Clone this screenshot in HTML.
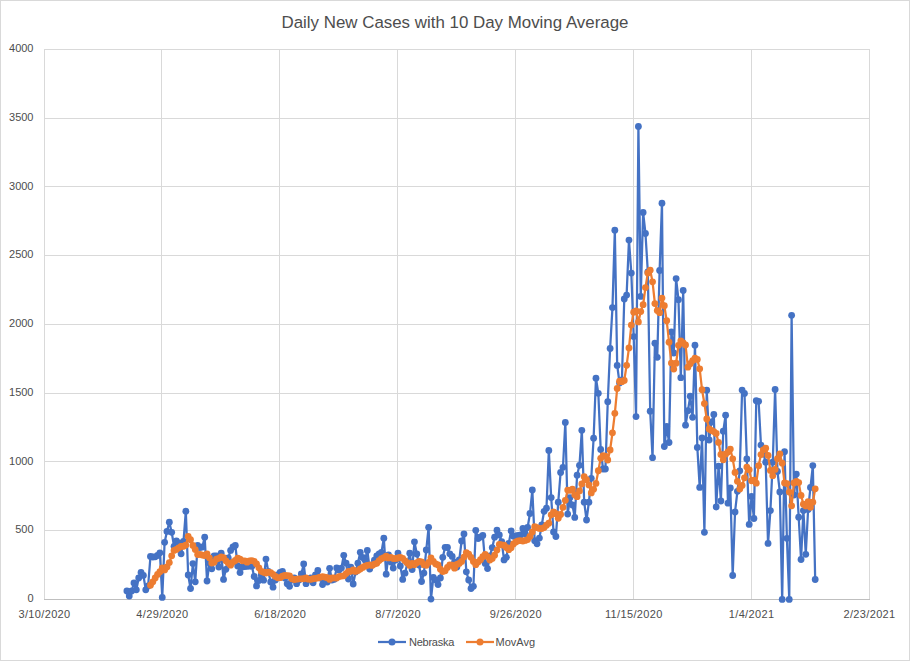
<!DOCTYPE html>
<html><head><meta charset="utf-8"><style>
html,body{margin:0;padding:0;background:#fff;}
#c{position:relative;width:910px;height:661px;overflow:hidden;font-family:"Liberation Sans",sans-serif;color:#4d4d4d;}
#frame{position:absolute;left:0;top:0;width:908px;height:659px;border:1px solid #d9d9d9;}
.t{position:absolute;left:0;width:910px;top:13px;text-align:center;font-size:16.9px;line-height:20px;letter-spacing:0px;}
.yl{position:absolute;left:0;width:33.5px;text-align:right;font-size:11px;line-height:14px;}
.xl{position:absolute;top:607px;width:100px;text-align:center;font-size:11px;line-height:14px;letter-spacing:0.35px;}
.lg{position:absolute;top:635px;font-size:11px;line-height:14px;}
svg{position:absolute;left:0;top:0;}
</style></head><body><div id="c">
<div id="frame"></div>
<svg width="910" height="661" viewBox="0 0 910 661">
<line x1="44" y1="49.5" x2="870" y2="49.5" stroke="#d9d9d9" stroke-width="1"/><line x1="44" y1="118.5" x2="870" y2="118.5" stroke="#d9d9d9" stroke-width="1"/><line x1="44" y1="186.5" x2="870" y2="186.5" stroke="#d9d9d9" stroke-width="1"/><line x1="44" y1="255.5" x2="870" y2="255.5" stroke="#d9d9d9" stroke-width="1"/><line x1="44" y1="324.5" x2="870" y2="324.5" stroke="#d9d9d9" stroke-width="1"/><line x1="44" y1="393.5" x2="870" y2="393.5" stroke="#d9d9d9" stroke-width="1"/><line x1="44" y1="461.5" x2="870" y2="461.5" stroke="#d9d9d9" stroke-width="1"/><line x1="44" y1="530.5" x2="870" y2="530.5" stroke="#d9d9d9" stroke-width="1"/><line x1="44.5" y1="49" x2="44.5" y2="599" stroke="#d9d9d9" stroke-width="1"/><line x1="161.5" y1="49" x2="161.5" y2="599" stroke="#d9d9d9" stroke-width="1"/><line x1="279.5" y1="49" x2="279.5" y2="599" stroke="#d9d9d9" stroke-width="1"/><line x1="397.5" y1="49" x2="397.5" y2="599" stroke="#d9d9d9" stroke-width="1"/><line x1="515.5" y1="49" x2="515.5" y2="599" stroke="#d9d9d9" stroke-width="1"/><line x1="633.5" y1="49" x2="633.5" y2="599" stroke="#d9d9d9" stroke-width="1"/><line x1="751.5" y1="49" x2="751.5" y2="599" stroke="#d9d9d9" stroke-width="1"/><line x1="869.5" y1="49" x2="869.5" y2="599" stroke="#d9d9d9" stroke-width="1"/><line x1="44" y1="599.5" x2="870" y2="599.5" stroke="#bfbfbf" stroke-width="1"/><path d="M126.90,591.00 L129.26,596.00 L131.61,591.00 L133.97,583.00 L136.33,589.80 L138.69,578.00 L141.04,572.50 L143.40,575.40 L145.76,589.80 L148.11,586.00 L150.47,556.40 L152.83,557.00 L155.19,556.80 L157.54,555.50 L159.90,552.80 L162.26,597.40 L164.61,542.30 L166.97,531.40 L169.33,522.20 L171.69,532.30 L174.04,546.30 L176.40,541.00 L178.76,543.00 L181.11,553.80 L183.47,541.50 L185.83,511.20 L188.19,575.00 L190.54,588.50 L192.90,563.60 L195.26,581.80 L197.61,545.30 L199.97,547.50 L202.33,547.00 L204.69,537.20 L207.04,581.00 L209.40,563.00 L211.76,568.80 L214.11,556.00 L216.47,556.00 L218.83,567.00 L221.19,553.20 L223.54,579.40 L225.90,569.30 L228.26,558.00 L230.61,550.40 L232.97,547.00 L235.33,545.50 L237.69,566.00 L240.04,572.60 L242.40,567.00 L244.76,566.50 L247.11,566.30 L249.47,566.00 L251.83,566.20 L254.19,576.50 L256.54,585.90 L258.90,580.50 L261.26,575.00 L263.61,580.20 L265.97,559.10 L268.33,571.40 L270.69,582.00 L273.04,587.20 L275.40,580.00 L277.76,575.00 L280.11,572.30 L282.47,571.40 L284.83,578.00 L287.19,583.70 L289.54,586.30 L291.90,580.00 L294.26,578.00 L296.61,583.70 L298.97,580.00 L301.33,574.00 L303.69,563.90 L306.04,583.70 L308.40,580.00 L310.76,578.00 L313.11,582.80 L315.47,575.00 L317.83,570.50 L320.19,578.00 L322.54,584.60 L324.90,580.00 L327.26,582.00 L329.61,568.30 L331.97,580.00 L334.33,579.30 L336.69,567.90 L339.04,570.00 L341.40,568.10 L343.76,555.30 L346.11,563.20 L348.47,579.00 L350.83,567.20 L353.19,584.00 L355.54,572.00 L357.90,563.20 L360.26,552.30 L362.61,557.50 L364.97,560.00 L367.33,550.50 L369.69,569.00 L372.04,565.00 L374.40,560.20 L376.76,556.00 L379.11,554.00 L381.47,552.30 L383.83,538.20 L386.19,574.20 L388.54,554.90 L390.90,562.00 L393.26,568.10 L395.61,560.00 L397.97,553.10 L400.33,566.00 L402.69,579.40 L405.04,573.20 L407.40,563.00 L409.76,553.20 L412.11,569.50 L414.47,541.80 L416.83,554.00 L419.19,565.00 L421.54,581.50 L423.90,573.10 L426.26,550.00 L428.61,527.30 L430.97,599.10 L433.33,577.50 L435.69,580.00 L438.04,584.60 L440.40,578.00 L442.76,557.30 L445.11,547.30 L447.47,547.50 L449.83,553.80 L452.19,556.40 L454.54,562.00 L456.90,567.00 L459.26,560.00 L461.61,541.00 L463.97,533.90 L466.33,571.80 L468.69,580.00 L471.04,588.50 L473.40,586.30 L475.76,530.30 L478.11,538.60 L480.47,537.00 L482.83,535.50 L485.19,563.40 L487.54,568.60 L489.90,556.00 L492.26,547.60 L494.61,537.20 L496.97,530.20 L499.33,535.00 L501.69,541.60 L504.04,559.90 L506.40,557.30 L508.76,543.40 L511.11,530.90 L513.47,536.30 L515.83,536.00 L518.19,535.30 L520.54,535.00 L522.90,528.40 L525.26,533.70 L527.61,527.50 L529.97,513.50 L532.33,490.00 L534.69,540.70 L537.04,543.80 L539.40,538.10 L541.76,525.00 L544.11,511.30 L546.47,508.20 L548.83,450.40 L551.19,497.60 L553.54,532.00 L555.90,536.50 L558.26,502.20 L560.61,472.50 L562.97,467.30 L565.33,422.40 L567.69,514.10 L570.04,497.60 L572.40,505.00 L574.76,517.40 L577.11,475.20 L579.47,465.30 L581.83,430.30 L584.19,502.20 L586.54,520.00 L588.90,502.20 L591.26,478.30 L593.61,438.20 L595.97,378.20 L598.33,393.30 L600.69,449.40 L603.04,469.00 L605.40,469.00 L607.76,401.70 L610.11,348.50 L612.47,307.60 L614.83,230.20 L617.19,365.40 L619.54,383.00 L621.90,380.00 L624.26,299.00 L626.61,295.10 L628.97,240.10 L631.33,273.10 L633.69,336.60 L636.04,416.60 L638.40,126.50 L640.76,296.40 L643.11,212.40 L645.47,233.50 L647.83,272.00 L650.19,411.20 L652.54,457.70 L654.90,343.20 L657.26,357.30 L659.61,270.50 L661.97,203.20 L664.33,446.50 L666.69,426.50 L669.04,442.50 L671.40,332.00 L673.76,353.00 L676.11,278.60 L678.47,299.70 L680.83,377.70 L683.19,290.40 L685.54,425.20 L687.90,410.70 L690.26,396.20 L692.61,417.30 L694.97,345.20 L697.33,447.50 L699.69,487.40 L702.04,438.00 L704.40,532.30 L706.76,390.20 L709.11,440.00 L711.47,422.00 L713.83,414.50 L716.19,507.00 L718.54,466.20 L720.90,501.00 L723.26,431.20 L725.61,415.20 L727.97,503.20 L730.33,488.00 L732.69,575.50 L735.04,511.90 L737.40,491.35 L739.76,470.80 L742.11,390.10 L744.47,393.40 L746.83,458.90 L749.19,524.40 L751.54,496.50 L753.90,518.50 L756.26,400.70 L758.61,401.30 L760.97,445.10 L763.33,453.65 L765.69,462.20 L768.04,543.40 L770.40,510.60 L772.76,462.20 L775.11,389.50 L777.47,471.50 L779.83,491.90 L782.19,599.40 L784.54,451.70 L786.90,538.30 L789.26,599.40 L791.61,315.30 L793.97,495.00 L796.33,474.10 L798.69,517.20 L801.04,559.50 L803.40,510.60 L805.76,554.30 L808.11,509.50 L810.47,487.40 L812.83,465.60 L815.19,579.50" fill="none" stroke="#4472c4" stroke-width="2.25" stroke-linejoin="round" stroke-linecap="round"/><circle cx="126.90" cy="591.00" r="3.4" fill="#4472c4"/><circle cx="129.26" cy="596.00" r="3.4" fill="#4472c4"/><circle cx="131.61" cy="591.00" r="3.4" fill="#4472c4"/><circle cx="133.97" cy="583.00" r="3.4" fill="#4472c4"/><circle cx="136.33" cy="589.80" r="3.4" fill="#4472c4"/><circle cx="138.69" cy="578.00" r="3.4" fill="#4472c4"/><circle cx="141.04" cy="572.50" r="3.4" fill="#4472c4"/><circle cx="143.40" cy="575.40" r="3.4" fill="#4472c4"/><circle cx="145.76" cy="589.80" r="3.4" fill="#4472c4"/><circle cx="148.11" cy="586.00" r="3.4" fill="#4472c4"/><circle cx="150.47" cy="556.40" r="3.4" fill="#4472c4"/><circle cx="152.83" cy="557.00" r="3.4" fill="#4472c4"/><circle cx="155.19" cy="556.80" r="3.4" fill="#4472c4"/><circle cx="157.54" cy="555.50" r="3.4" fill="#4472c4"/><circle cx="159.90" cy="552.80" r="3.4" fill="#4472c4"/><circle cx="162.26" cy="597.40" r="3.4" fill="#4472c4"/><circle cx="164.61" cy="542.30" r="3.4" fill="#4472c4"/><circle cx="166.97" cy="531.40" r="3.4" fill="#4472c4"/><circle cx="169.33" cy="522.20" r="3.4" fill="#4472c4"/><circle cx="171.69" cy="532.30" r="3.4" fill="#4472c4"/><circle cx="174.04" cy="546.30" r="3.4" fill="#4472c4"/><circle cx="176.40" cy="541.00" r="3.4" fill="#4472c4"/><circle cx="178.76" cy="543.00" r="3.4" fill="#4472c4"/><circle cx="181.11" cy="553.80" r="3.4" fill="#4472c4"/><circle cx="183.47" cy="541.50" r="3.4" fill="#4472c4"/><circle cx="185.83" cy="511.20" r="3.4" fill="#4472c4"/><circle cx="188.19" cy="575.00" r="3.4" fill="#4472c4"/><circle cx="190.54" cy="588.50" r="3.4" fill="#4472c4"/><circle cx="192.90" cy="563.60" r="3.4" fill="#4472c4"/><circle cx="195.26" cy="581.80" r="3.4" fill="#4472c4"/><circle cx="197.61" cy="545.30" r="3.4" fill="#4472c4"/><circle cx="199.97" cy="547.50" r="3.4" fill="#4472c4"/><circle cx="202.33" cy="547.00" r="3.4" fill="#4472c4"/><circle cx="204.69" cy="537.20" r="3.4" fill="#4472c4"/><circle cx="207.04" cy="581.00" r="3.4" fill="#4472c4"/><circle cx="209.40" cy="563.00" r="3.4" fill="#4472c4"/><circle cx="211.76" cy="568.80" r="3.4" fill="#4472c4"/><circle cx="214.11" cy="556.00" r="3.4" fill="#4472c4"/><circle cx="216.47" cy="556.00" r="3.4" fill="#4472c4"/><circle cx="218.83" cy="567.00" r="3.4" fill="#4472c4"/><circle cx="221.19" cy="553.20" r="3.4" fill="#4472c4"/><circle cx="223.54" cy="579.40" r="3.4" fill="#4472c4"/><circle cx="225.90" cy="569.30" r="3.4" fill="#4472c4"/><circle cx="228.26" cy="558.00" r="3.4" fill="#4472c4"/><circle cx="230.61" cy="550.40" r="3.4" fill="#4472c4"/><circle cx="232.97" cy="547.00" r="3.4" fill="#4472c4"/><circle cx="235.33" cy="545.50" r="3.4" fill="#4472c4"/><circle cx="237.69" cy="566.00" r="3.4" fill="#4472c4"/><circle cx="240.04" cy="572.60" r="3.4" fill="#4472c4"/><circle cx="242.40" cy="567.00" r="3.4" fill="#4472c4"/><circle cx="244.76" cy="566.50" r="3.4" fill="#4472c4"/><circle cx="247.11" cy="566.30" r="3.4" fill="#4472c4"/><circle cx="249.47" cy="566.00" r="3.4" fill="#4472c4"/><circle cx="251.83" cy="566.20" r="3.4" fill="#4472c4"/><circle cx="254.19" cy="576.50" r="3.4" fill="#4472c4"/><circle cx="256.54" cy="585.90" r="3.4" fill="#4472c4"/><circle cx="258.90" cy="580.50" r="3.4" fill="#4472c4"/><circle cx="261.26" cy="575.00" r="3.4" fill="#4472c4"/><circle cx="263.61" cy="580.20" r="3.4" fill="#4472c4"/><circle cx="265.97" cy="559.10" r="3.4" fill="#4472c4"/><circle cx="268.33" cy="571.40" r="3.4" fill="#4472c4"/><circle cx="270.69" cy="582.00" r="3.4" fill="#4472c4"/><circle cx="273.04" cy="587.20" r="3.4" fill="#4472c4"/><circle cx="275.40" cy="580.00" r="3.4" fill="#4472c4"/><circle cx="277.76" cy="575.00" r="3.4" fill="#4472c4"/><circle cx="280.11" cy="572.30" r="3.4" fill="#4472c4"/><circle cx="282.47" cy="571.40" r="3.4" fill="#4472c4"/><circle cx="284.83" cy="578.00" r="3.4" fill="#4472c4"/><circle cx="287.19" cy="583.70" r="3.4" fill="#4472c4"/><circle cx="289.54" cy="586.30" r="3.4" fill="#4472c4"/><circle cx="291.90" cy="580.00" r="3.4" fill="#4472c4"/><circle cx="294.26" cy="578.00" r="3.4" fill="#4472c4"/><circle cx="296.61" cy="583.70" r="3.4" fill="#4472c4"/><circle cx="298.97" cy="580.00" r="3.4" fill="#4472c4"/><circle cx="301.33" cy="574.00" r="3.4" fill="#4472c4"/><circle cx="303.69" cy="563.90" r="3.4" fill="#4472c4"/><circle cx="306.04" cy="583.70" r="3.4" fill="#4472c4"/><circle cx="308.40" cy="580.00" r="3.4" fill="#4472c4"/><circle cx="310.76" cy="578.00" r="3.4" fill="#4472c4"/><circle cx="313.11" cy="582.80" r="3.4" fill="#4472c4"/><circle cx="315.47" cy="575.00" r="3.4" fill="#4472c4"/><circle cx="317.83" cy="570.50" r="3.4" fill="#4472c4"/><circle cx="320.19" cy="578.00" r="3.4" fill="#4472c4"/><circle cx="322.54" cy="584.60" r="3.4" fill="#4472c4"/><circle cx="324.90" cy="580.00" r="3.4" fill="#4472c4"/><circle cx="327.26" cy="582.00" r="3.4" fill="#4472c4"/><circle cx="329.61" cy="568.30" r="3.4" fill="#4472c4"/><circle cx="331.97" cy="580.00" r="3.4" fill="#4472c4"/><circle cx="334.33" cy="579.30" r="3.4" fill="#4472c4"/><circle cx="336.69" cy="567.90" r="3.4" fill="#4472c4"/><circle cx="339.04" cy="570.00" r="3.4" fill="#4472c4"/><circle cx="341.40" cy="568.10" r="3.4" fill="#4472c4"/><circle cx="343.76" cy="555.30" r="3.4" fill="#4472c4"/><circle cx="346.11" cy="563.20" r="3.4" fill="#4472c4"/><circle cx="348.47" cy="579.00" r="3.4" fill="#4472c4"/><circle cx="350.83" cy="567.20" r="3.4" fill="#4472c4"/><circle cx="353.19" cy="584.00" r="3.4" fill="#4472c4"/><circle cx="355.54" cy="572.00" r="3.4" fill="#4472c4"/><circle cx="357.90" cy="563.20" r="3.4" fill="#4472c4"/><circle cx="360.26" cy="552.30" r="3.4" fill="#4472c4"/><circle cx="362.61" cy="557.50" r="3.4" fill="#4472c4"/><circle cx="364.97" cy="560.00" r="3.4" fill="#4472c4"/><circle cx="367.33" cy="550.50" r="3.4" fill="#4472c4"/><circle cx="369.69" cy="569.00" r="3.4" fill="#4472c4"/><circle cx="372.04" cy="565.00" r="3.4" fill="#4472c4"/><circle cx="374.40" cy="560.20" r="3.4" fill="#4472c4"/><circle cx="376.76" cy="556.00" r="3.4" fill="#4472c4"/><circle cx="379.11" cy="554.00" r="3.4" fill="#4472c4"/><circle cx="381.47" cy="552.30" r="3.4" fill="#4472c4"/><circle cx="383.83" cy="538.20" r="3.4" fill="#4472c4"/><circle cx="386.19" cy="574.20" r="3.4" fill="#4472c4"/><circle cx="388.54" cy="554.90" r="3.4" fill="#4472c4"/><circle cx="390.90" cy="562.00" r="3.4" fill="#4472c4"/><circle cx="393.26" cy="568.10" r="3.4" fill="#4472c4"/><circle cx="395.61" cy="560.00" r="3.4" fill="#4472c4"/><circle cx="397.97" cy="553.10" r="3.4" fill="#4472c4"/><circle cx="400.33" cy="566.00" r="3.4" fill="#4472c4"/><circle cx="402.69" cy="579.40" r="3.4" fill="#4472c4"/><circle cx="405.04" cy="573.20" r="3.4" fill="#4472c4"/><circle cx="407.40" cy="563.00" r="3.4" fill="#4472c4"/><circle cx="409.76" cy="553.20" r="3.4" fill="#4472c4"/><circle cx="412.11" cy="569.50" r="3.4" fill="#4472c4"/><circle cx="414.47" cy="541.80" r="3.4" fill="#4472c4"/><circle cx="416.83" cy="554.00" r="3.4" fill="#4472c4"/><circle cx="419.19" cy="565.00" r="3.4" fill="#4472c4"/><circle cx="421.54" cy="581.50" r="3.4" fill="#4472c4"/><circle cx="423.90" cy="573.10" r="3.4" fill="#4472c4"/><circle cx="426.26" cy="550.00" r="3.4" fill="#4472c4"/><circle cx="428.61" cy="527.30" r="3.4" fill="#4472c4"/><circle cx="430.97" cy="599.10" r="3.4" fill="#4472c4"/><circle cx="433.33" cy="577.50" r="3.4" fill="#4472c4"/><circle cx="435.69" cy="580.00" r="3.4" fill="#4472c4"/><circle cx="438.04" cy="584.60" r="3.4" fill="#4472c4"/><circle cx="440.40" cy="578.00" r="3.4" fill="#4472c4"/><circle cx="442.76" cy="557.30" r="3.4" fill="#4472c4"/><circle cx="445.11" cy="547.30" r="3.4" fill="#4472c4"/><circle cx="447.47" cy="547.50" r="3.4" fill="#4472c4"/><circle cx="449.83" cy="553.80" r="3.4" fill="#4472c4"/><circle cx="452.19" cy="556.40" r="3.4" fill="#4472c4"/><circle cx="454.54" cy="562.00" r="3.4" fill="#4472c4"/><circle cx="456.90" cy="567.00" r="3.4" fill="#4472c4"/><circle cx="459.26" cy="560.00" r="3.4" fill="#4472c4"/><circle cx="461.61" cy="541.00" r="3.4" fill="#4472c4"/><circle cx="463.97" cy="533.90" r="3.4" fill="#4472c4"/><circle cx="466.33" cy="571.80" r="3.4" fill="#4472c4"/><circle cx="468.69" cy="580.00" r="3.4" fill="#4472c4"/><circle cx="471.04" cy="588.50" r="3.4" fill="#4472c4"/><circle cx="473.40" cy="586.30" r="3.4" fill="#4472c4"/><circle cx="475.76" cy="530.30" r="3.4" fill="#4472c4"/><circle cx="478.11" cy="538.60" r="3.4" fill="#4472c4"/><circle cx="480.47" cy="537.00" r="3.4" fill="#4472c4"/><circle cx="482.83" cy="535.50" r="3.4" fill="#4472c4"/><circle cx="485.19" cy="563.40" r="3.4" fill="#4472c4"/><circle cx="487.54" cy="568.60" r="3.4" fill="#4472c4"/><circle cx="489.90" cy="556.00" r="3.4" fill="#4472c4"/><circle cx="492.26" cy="547.60" r="3.4" fill="#4472c4"/><circle cx="494.61" cy="537.20" r="3.4" fill="#4472c4"/><circle cx="496.97" cy="530.20" r="3.4" fill="#4472c4"/><circle cx="499.33" cy="535.00" r="3.4" fill="#4472c4"/><circle cx="501.69" cy="541.60" r="3.4" fill="#4472c4"/><circle cx="504.04" cy="559.90" r="3.4" fill="#4472c4"/><circle cx="506.40" cy="557.30" r="3.4" fill="#4472c4"/><circle cx="508.76" cy="543.40" r="3.4" fill="#4472c4"/><circle cx="511.11" cy="530.90" r="3.4" fill="#4472c4"/><circle cx="513.47" cy="536.30" r="3.4" fill="#4472c4"/><circle cx="515.83" cy="536.00" r="3.4" fill="#4472c4"/><circle cx="518.19" cy="535.30" r="3.4" fill="#4472c4"/><circle cx="520.54" cy="535.00" r="3.4" fill="#4472c4"/><circle cx="522.90" cy="528.40" r="3.4" fill="#4472c4"/><circle cx="525.26" cy="533.70" r="3.4" fill="#4472c4"/><circle cx="527.61" cy="527.50" r="3.4" fill="#4472c4"/><circle cx="529.97" cy="513.50" r="3.4" fill="#4472c4"/><circle cx="532.33" cy="490.00" r="3.4" fill="#4472c4"/><circle cx="534.69" cy="540.70" r="3.4" fill="#4472c4"/><circle cx="537.04" cy="543.80" r="3.4" fill="#4472c4"/><circle cx="539.40" cy="538.10" r="3.4" fill="#4472c4"/><circle cx="541.76" cy="525.00" r="3.4" fill="#4472c4"/><circle cx="544.11" cy="511.30" r="3.4" fill="#4472c4"/><circle cx="546.47" cy="508.20" r="3.4" fill="#4472c4"/><circle cx="548.83" cy="450.40" r="3.4" fill="#4472c4"/><circle cx="551.19" cy="497.60" r="3.4" fill="#4472c4"/><circle cx="553.54" cy="532.00" r="3.4" fill="#4472c4"/><circle cx="555.90" cy="536.50" r="3.4" fill="#4472c4"/><circle cx="558.26" cy="502.20" r="3.4" fill="#4472c4"/><circle cx="560.61" cy="472.50" r="3.4" fill="#4472c4"/><circle cx="562.97" cy="467.30" r="3.4" fill="#4472c4"/><circle cx="565.33" cy="422.40" r="3.4" fill="#4472c4"/><circle cx="567.69" cy="514.10" r="3.4" fill="#4472c4"/><circle cx="570.04" cy="497.60" r="3.4" fill="#4472c4"/><circle cx="572.40" cy="505.00" r="3.4" fill="#4472c4"/><circle cx="574.76" cy="517.40" r="3.4" fill="#4472c4"/><circle cx="577.11" cy="475.20" r="3.4" fill="#4472c4"/><circle cx="579.47" cy="465.30" r="3.4" fill="#4472c4"/><circle cx="581.83" cy="430.30" r="3.4" fill="#4472c4"/><circle cx="584.19" cy="502.20" r="3.4" fill="#4472c4"/><circle cx="586.54" cy="520.00" r="3.4" fill="#4472c4"/><circle cx="588.90" cy="502.20" r="3.4" fill="#4472c4"/><circle cx="591.26" cy="478.30" r="3.4" fill="#4472c4"/><circle cx="593.61" cy="438.20" r="3.4" fill="#4472c4"/><circle cx="595.97" cy="378.20" r="3.4" fill="#4472c4"/><circle cx="598.33" cy="393.30" r="3.4" fill="#4472c4"/><circle cx="600.69" cy="449.40" r="3.4" fill="#4472c4"/><circle cx="603.04" cy="469.00" r="3.4" fill="#4472c4"/><circle cx="605.40" cy="469.00" r="3.4" fill="#4472c4"/><circle cx="607.76" cy="401.70" r="3.4" fill="#4472c4"/><circle cx="610.11" cy="348.50" r="3.4" fill="#4472c4"/><circle cx="612.47" cy="307.60" r="3.4" fill="#4472c4"/><circle cx="614.83" cy="230.20" r="3.4" fill="#4472c4"/><circle cx="617.19" cy="365.40" r="3.4" fill="#4472c4"/><circle cx="619.54" cy="383.00" r="3.4" fill="#4472c4"/><circle cx="621.90" cy="380.00" r="3.4" fill="#4472c4"/><circle cx="624.26" cy="299.00" r="3.4" fill="#4472c4"/><circle cx="626.61" cy="295.10" r="3.4" fill="#4472c4"/><circle cx="628.97" cy="240.10" r="3.4" fill="#4472c4"/><circle cx="631.33" cy="273.10" r="3.4" fill="#4472c4"/><circle cx="633.69" cy="336.60" r="3.4" fill="#4472c4"/><circle cx="636.04" cy="416.60" r="3.4" fill="#4472c4"/><circle cx="638.40" cy="126.50" r="3.4" fill="#4472c4"/><circle cx="640.76" cy="296.40" r="3.4" fill="#4472c4"/><circle cx="643.11" cy="212.40" r="3.4" fill="#4472c4"/><circle cx="645.47" cy="233.50" r="3.4" fill="#4472c4"/><circle cx="647.83" cy="272.00" r="3.4" fill="#4472c4"/><circle cx="650.19" cy="411.20" r="3.4" fill="#4472c4"/><circle cx="652.54" cy="457.70" r="3.4" fill="#4472c4"/><circle cx="654.90" cy="343.20" r="3.4" fill="#4472c4"/><circle cx="657.26" cy="357.30" r="3.4" fill="#4472c4"/><circle cx="659.61" cy="270.50" r="3.4" fill="#4472c4"/><circle cx="661.97" cy="203.20" r="3.4" fill="#4472c4"/><circle cx="664.33" cy="446.50" r="3.4" fill="#4472c4"/><circle cx="666.69" cy="426.50" r="3.4" fill="#4472c4"/><circle cx="669.04" cy="442.50" r="3.4" fill="#4472c4"/><circle cx="671.40" cy="332.00" r="3.4" fill="#4472c4"/><circle cx="673.76" cy="353.00" r="3.4" fill="#4472c4"/><circle cx="676.11" cy="278.60" r="3.4" fill="#4472c4"/><circle cx="678.47" cy="299.70" r="3.4" fill="#4472c4"/><circle cx="680.83" cy="377.70" r="3.4" fill="#4472c4"/><circle cx="683.19" cy="290.40" r="3.4" fill="#4472c4"/><circle cx="685.54" cy="425.20" r="3.4" fill="#4472c4"/><circle cx="687.90" cy="410.70" r="3.4" fill="#4472c4"/><circle cx="690.26" cy="396.20" r="3.4" fill="#4472c4"/><circle cx="692.61" cy="417.30" r="3.4" fill="#4472c4"/><circle cx="694.97" cy="345.20" r="3.4" fill="#4472c4"/><circle cx="697.33" cy="447.50" r="3.4" fill="#4472c4"/><circle cx="699.69" cy="487.40" r="3.4" fill="#4472c4"/><circle cx="702.04" cy="438.00" r="3.4" fill="#4472c4"/><circle cx="704.40" cy="532.30" r="3.4" fill="#4472c4"/><circle cx="706.76" cy="390.20" r="3.4" fill="#4472c4"/><circle cx="709.11" cy="440.00" r="3.4" fill="#4472c4"/><circle cx="711.47" cy="422.00" r="3.4" fill="#4472c4"/><circle cx="713.83" cy="414.50" r="3.4" fill="#4472c4"/><circle cx="716.19" cy="507.00" r="3.4" fill="#4472c4"/><circle cx="718.54" cy="466.20" r="3.4" fill="#4472c4"/><circle cx="720.90" cy="501.00" r="3.4" fill="#4472c4"/><circle cx="723.26" cy="431.20" r="3.4" fill="#4472c4"/><circle cx="725.61" cy="415.20" r="3.4" fill="#4472c4"/><circle cx="727.97" cy="503.20" r="3.4" fill="#4472c4"/><circle cx="730.33" cy="488.00" r="3.4" fill="#4472c4"/><circle cx="732.69" cy="575.50" r="3.4" fill="#4472c4"/><circle cx="735.04" cy="511.90" r="3.4" fill="#4472c4"/><circle cx="737.40" cy="491.35" r="3.4" fill="#4472c4"/><circle cx="739.76" cy="470.80" r="3.4" fill="#4472c4"/><circle cx="742.11" cy="390.10" r="3.4" fill="#4472c4"/><circle cx="744.47" cy="393.40" r="3.4" fill="#4472c4"/><circle cx="746.83" cy="458.90" r="3.4" fill="#4472c4"/><circle cx="749.19" cy="524.40" r="3.4" fill="#4472c4"/><circle cx="751.54" cy="496.50" r="3.4" fill="#4472c4"/><circle cx="753.90" cy="518.50" r="3.4" fill="#4472c4"/><circle cx="756.26" cy="400.70" r="3.4" fill="#4472c4"/><circle cx="758.61" cy="401.30" r="3.4" fill="#4472c4"/><circle cx="760.97" cy="445.10" r="3.4" fill="#4472c4"/><circle cx="763.33" cy="453.65" r="3.4" fill="#4472c4"/><circle cx="765.69" cy="462.20" r="3.4" fill="#4472c4"/><circle cx="768.04" cy="543.40" r="3.4" fill="#4472c4"/><circle cx="770.40" cy="510.60" r="3.4" fill="#4472c4"/><circle cx="772.76" cy="462.20" r="3.4" fill="#4472c4"/><circle cx="775.11" cy="389.50" r="3.4" fill="#4472c4"/><circle cx="777.47" cy="471.50" r="3.4" fill="#4472c4"/><circle cx="779.83" cy="491.90" r="3.4" fill="#4472c4"/><circle cx="782.19" cy="599.40" r="3.4" fill="#4472c4"/><circle cx="784.54" cy="451.70" r="3.4" fill="#4472c4"/><circle cx="786.90" cy="538.30" r="3.4" fill="#4472c4"/><circle cx="789.26" cy="599.40" r="3.4" fill="#4472c4"/><circle cx="791.61" cy="315.30" r="3.4" fill="#4472c4"/><circle cx="793.97" cy="495.00" r="3.4" fill="#4472c4"/><circle cx="796.33" cy="474.10" r="3.4" fill="#4472c4"/><circle cx="798.69" cy="517.20" r="3.4" fill="#4472c4"/><circle cx="801.04" cy="559.50" r="3.4" fill="#4472c4"/><circle cx="803.40" cy="510.60" r="3.4" fill="#4472c4"/><circle cx="805.76" cy="554.30" r="3.4" fill="#4472c4"/><circle cx="808.11" cy="509.50" r="3.4" fill="#4472c4"/><circle cx="810.47" cy="487.40" r="3.4" fill="#4472c4"/><circle cx="812.83" cy="465.60" r="3.4" fill="#4472c4"/><circle cx="815.19" cy="579.50" r="3.4" fill="#4472c4"/><path d="M150.47,585.25 L152.83,581.79 L155.19,577.89 L157.54,574.47 L159.90,571.72 L162.26,568.02 L164.61,569.96 L166.97,566.94 L169.33,562.54 L171.69,555.78 L174.04,550.41 L176.40,549.40 L178.76,547.80 L181.11,546.42 L183.47,546.25 L185.83,545.12 L188.19,536.50 L190.54,539.77 L192.90,545.48 L195.26,549.62 L197.61,554.57 L199.97,554.47 L202.33,555.12 L204.69,555.52 L207.04,553.86 L209.40,557.81 L211.76,562.99 L214.11,562.37 L216.47,559.12 L218.83,558.36 L221.19,556.88 L223.54,557.67 L225.90,560.86 L228.26,563.09 L230.61,565.17 L232.97,562.11 L235.33,560.51 L237.69,558.18 L240.04,559.18 L242.40,560.84 L244.76,560.84 L247.11,562.17 L249.47,560.86 L251.83,560.53 L254.19,561.35 L256.54,563.96 L258.90,567.85 L261.26,571.35 L263.61,572.25 L265.97,573.01 L268.33,572.22 L270.69,572.71 L273.04,574.28 L275.40,576.40 L277.76,577.78 L280.11,577.63 L282.47,576.27 L284.83,575.36 L287.19,575.66 L289.54,576.01 L291.90,578.73 L294.26,579.59 L296.61,579.19 L298.97,578.84 L301.33,578.84 L303.69,578.74 L306.04,577.90 L308.40,579.13 L310.76,579.33 L313.11,578.76 L315.47,578.41 L317.83,577.91 L320.19,577.16 L322.54,576.59 L324.90,577.05 L327.26,577.65 L329.61,579.46 L331.97,577.92 L334.33,577.92 L336.69,578.05 L339.04,576.56 L341.40,576.06 L343.76,575.82 L346.11,573.55 L348.47,571.41 L350.83,571.31 L353.19,569.83 L355.54,571.40 L357.90,570.60 L360.26,568.99 L362.61,567.43 L364.97,566.18 L367.33,565.37 L369.69,564.89 L372.04,565.47 L374.40,564.07 L376.76,563.37 L379.11,560.57 L381.47,558.77 L383.83,557.68 L386.19,556.27 L388.54,557.94 L390.90,557.43 L393.26,558.58 L395.61,558.49 L397.97,557.99 L400.33,557.28 L402.69,558.28 L405.04,560.82 L407.40,562.91 L409.76,565.39 L412.11,563.29 L414.47,564.75 L416.83,562.73 L419.19,561.32 L421.54,561.82 L423.90,564.66 L426.26,565.37 L428.61,562.43 L430.97,557.84 L433.33,561.45 L435.69,563.88 L438.04,564.93 L440.40,569.21 L442.76,571.61 L445.11,570.84 L447.47,567.42 L449.83,564.86 L452.19,565.24 L454.54,568.15 L456.90,564.44 L459.26,563.39 L461.61,561.39 L463.97,557.03 L466.33,552.62 L468.69,554.07 L471.04,557.34 L473.40,561.44 L475.76,564.69 L478.11,562.08 L480.47,559.74 L482.83,556.74 L485.19,554.29 L487.54,556.53 L489.90,560.00 L492.26,558.42 L494.61,555.18 L496.97,550.05 L499.33,544.44 L501.69,544.91 L504.04,545.21 L506.40,547.50 L508.76,549.68 L511.11,547.68 L513.47,543.91 L515.83,541.94 L518.19,540.78 L520.54,540.59 L522.90,541.07 L525.26,540.41 L527.61,539.62 L529.97,536.38 L532.33,532.00 L534.69,526.66 L537.04,527.64 L539.40,528.39 L541.76,528.60 L544.11,527.57 L546.47,525.20 L548.83,523.18 L551.19,514.85 L553.54,511.86 L555.90,513.71 L558.26,518.36 L560.61,514.51 L562.97,507.38 L565.33,500.30 L567.69,490.04 L570.04,490.32 L572.40,489.26 L574.76,494.72 L577.11,496.70 L579.47,491.02 L581.83,483.90 L584.19,476.71 L586.54,479.68 L588.90,484.95 L591.26,492.93 L593.61,489.35 L595.97,483.41 L598.33,470.73 L600.69,458.32 L603.04,455.74 L605.40,456.11 L607.76,459.98 L610.11,449.93 L612.47,432.78 L614.83,413.32 L617.19,388.51 L619.54,381.23 L621.90,381.71 L624.26,380.38 L626.61,365.34 L628.97,347.95 L631.33,325.06 L633.69,312.20 L636.04,311.01 L638.40,321.91 L640.76,311.54 L643.11,304.64 L645.47,287.58 L647.83,272.93 L650.19,270.23 L652.54,281.84 L654.90,303.60 L657.26,310.61 L659.61,312.68 L661.97,298.07 L664.33,305.74 L666.69,320.75 L669.04,342.16 L671.40,363.06 L673.76,369.06 L676.11,363.24 L678.47,345.33 L680.83,340.98 L683.19,343.02 L685.54,345.01 L687.90,367.21 L690.26,363.63 L692.61,360.60 L694.97,358.08 L697.33,359.40 L699.69,368.85 L702.04,389.73 L704.40,403.56 L706.76,419.02 L709.11,429.00 L711.47,430.48 L713.83,431.61 L716.19,433.44 L718.54,442.41 L720.90,454.51 L723.26,459.86 L725.61,454.24 L727.97,451.96 L730.33,449.05 L732.69,458.83 L735.04,472.38 L737.40,481.37 L739.76,489.06 L742.11,485.44 L744.47,477.82 L746.83,467.06 L749.19,469.84 L751.54,480.75 L753.90,480.09 L756.26,483.14 L758.61,465.66 L760.97,454.59 L763.33,449.97 L765.69,448.25 L768.04,455.46 L770.40,470.46 L772.76,475.64 L775.11,469.41 L777.47,458.71 L779.83,454.01 L782.19,463.14 L784.54,482.94 L786.90,483.61 L789.26,492.07 L791.61,505.79 L793.97,482.98 L796.33,481.42 L798.69,482.61 L801.04,495.38 L803.40,504.18 L805.76,506.05 L808.11,501.54 L810.47,507.32 L812.83,502.23 L815.19,488.85" fill="none" stroke="#ed7d31" stroke-width="2.25" stroke-linejoin="round" stroke-linecap="round"/><circle cx="150.47" cy="585.25" r="3.4" fill="#ed7d31"/><circle cx="152.83" cy="581.79" r="3.4" fill="#ed7d31"/><circle cx="155.19" cy="577.89" r="3.4" fill="#ed7d31"/><circle cx="157.54" cy="574.47" r="3.4" fill="#ed7d31"/><circle cx="159.90" cy="571.72" r="3.4" fill="#ed7d31"/><circle cx="162.26" cy="568.02" r="3.4" fill="#ed7d31"/><circle cx="164.61" cy="569.96" r="3.4" fill="#ed7d31"/><circle cx="166.97" cy="566.94" r="3.4" fill="#ed7d31"/><circle cx="169.33" cy="562.54" r="3.4" fill="#ed7d31"/><circle cx="171.69" cy="555.78" r="3.4" fill="#ed7d31"/><circle cx="174.04" cy="550.41" r="3.4" fill="#ed7d31"/><circle cx="176.40" cy="549.40" r="3.4" fill="#ed7d31"/><circle cx="178.76" cy="547.80" r="3.4" fill="#ed7d31"/><circle cx="181.11" cy="546.42" r="3.4" fill="#ed7d31"/><circle cx="183.47" cy="546.25" r="3.4" fill="#ed7d31"/><circle cx="185.83" cy="545.12" r="3.4" fill="#ed7d31"/><circle cx="188.19" cy="536.50" r="3.4" fill="#ed7d31"/><circle cx="190.54" cy="539.77" r="3.4" fill="#ed7d31"/><circle cx="192.90" cy="545.48" r="3.4" fill="#ed7d31"/><circle cx="195.26" cy="549.62" r="3.4" fill="#ed7d31"/><circle cx="197.61" cy="554.57" r="3.4" fill="#ed7d31"/><circle cx="199.97" cy="554.47" r="3.4" fill="#ed7d31"/><circle cx="202.33" cy="555.12" r="3.4" fill="#ed7d31"/><circle cx="204.69" cy="555.52" r="3.4" fill="#ed7d31"/><circle cx="207.04" cy="553.86" r="3.4" fill="#ed7d31"/><circle cx="209.40" cy="557.81" r="3.4" fill="#ed7d31"/><circle cx="211.76" cy="562.99" r="3.4" fill="#ed7d31"/><circle cx="214.11" cy="562.37" r="3.4" fill="#ed7d31"/><circle cx="216.47" cy="559.12" r="3.4" fill="#ed7d31"/><circle cx="218.83" cy="558.36" r="3.4" fill="#ed7d31"/><circle cx="221.19" cy="556.88" r="3.4" fill="#ed7d31"/><circle cx="223.54" cy="557.67" r="3.4" fill="#ed7d31"/><circle cx="225.90" cy="560.86" r="3.4" fill="#ed7d31"/><circle cx="228.26" cy="563.09" r="3.4" fill="#ed7d31"/><circle cx="230.61" cy="565.17" r="3.4" fill="#ed7d31"/><circle cx="232.97" cy="562.11" r="3.4" fill="#ed7d31"/><circle cx="235.33" cy="560.51" r="3.4" fill="#ed7d31"/><circle cx="237.69" cy="558.18" r="3.4" fill="#ed7d31"/><circle cx="240.04" cy="559.18" r="3.4" fill="#ed7d31"/><circle cx="242.40" cy="560.84" r="3.4" fill="#ed7d31"/><circle cx="244.76" cy="560.84" r="3.4" fill="#ed7d31"/><circle cx="247.11" cy="562.17" r="3.4" fill="#ed7d31"/><circle cx="249.47" cy="560.86" r="3.4" fill="#ed7d31"/><circle cx="251.83" cy="560.53" r="3.4" fill="#ed7d31"/><circle cx="254.19" cy="561.35" r="3.4" fill="#ed7d31"/><circle cx="256.54" cy="563.96" r="3.4" fill="#ed7d31"/><circle cx="258.90" cy="567.85" r="3.4" fill="#ed7d31"/><circle cx="261.26" cy="571.35" r="3.4" fill="#ed7d31"/><circle cx="263.61" cy="572.25" r="3.4" fill="#ed7d31"/><circle cx="265.97" cy="573.01" r="3.4" fill="#ed7d31"/><circle cx="268.33" cy="572.22" r="3.4" fill="#ed7d31"/><circle cx="270.69" cy="572.71" r="3.4" fill="#ed7d31"/><circle cx="273.04" cy="574.28" r="3.4" fill="#ed7d31"/><circle cx="275.40" cy="576.40" r="3.4" fill="#ed7d31"/><circle cx="277.76" cy="577.78" r="3.4" fill="#ed7d31"/><circle cx="280.11" cy="577.63" r="3.4" fill="#ed7d31"/><circle cx="282.47" cy="576.27" r="3.4" fill="#ed7d31"/><circle cx="284.83" cy="575.36" r="3.4" fill="#ed7d31"/><circle cx="287.19" cy="575.66" r="3.4" fill="#ed7d31"/><circle cx="289.54" cy="576.01" r="3.4" fill="#ed7d31"/><circle cx="291.90" cy="578.73" r="3.4" fill="#ed7d31"/><circle cx="294.26" cy="579.59" r="3.4" fill="#ed7d31"/><circle cx="296.61" cy="579.19" r="3.4" fill="#ed7d31"/><circle cx="298.97" cy="578.84" r="3.4" fill="#ed7d31"/><circle cx="301.33" cy="578.84" r="3.4" fill="#ed7d31"/><circle cx="303.69" cy="578.74" r="3.4" fill="#ed7d31"/><circle cx="306.04" cy="577.90" r="3.4" fill="#ed7d31"/><circle cx="308.40" cy="579.13" r="3.4" fill="#ed7d31"/><circle cx="310.76" cy="579.33" r="3.4" fill="#ed7d31"/><circle cx="313.11" cy="578.76" r="3.4" fill="#ed7d31"/><circle cx="315.47" cy="578.41" r="3.4" fill="#ed7d31"/><circle cx="317.83" cy="577.91" r="3.4" fill="#ed7d31"/><circle cx="320.19" cy="577.16" r="3.4" fill="#ed7d31"/><circle cx="322.54" cy="576.59" r="3.4" fill="#ed7d31"/><circle cx="324.90" cy="577.05" r="3.4" fill="#ed7d31"/><circle cx="327.26" cy="577.65" r="3.4" fill="#ed7d31"/><circle cx="329.61" cy="579.46" r="3.4" fill="#ed7d31"/><circle cx="331.97" cy="577.92" r="3.4" fill="#ed7d31"/><circle cx="334.33" cy="577.92" r="3.4" fill="#ed7d31"/><circle cx="336.69" cy="578.05" r="3.4" fill="#ed7d31"/><circle cx="339.04" cy="576.56" r="3.4" fill="#ed7d31"/><circle cx="341.40" cy="576.06" r="3.4" fill="#ed7d31"/><circle cx="343.76" cy="575.82" r="3.4" fill="#ed7d31"/><circle cx="346.11" cy="573.55" r="3.4" fill="#ed7d31"/><circle cx="348.47" cy="571.41" r="3.4" fill="#ed7d31"/><circle cx="350.83" cy="571.31" r="3.4" fill="#ed7d31"/><circle cx="353.19" cy="569.83" r="3.4" fill="#ed7d31"/><circle cx="355.54" cy="571.40" r="3.4" fill="#ed7d31"/><circle cx="357.90" cy="570.60" r="3.4" fill="#ed7d31"/><circle cx="360.26" cy="568.99" r="3.4" fill="#ed7d31"/><circle cx="362.61" cy="567.43" r="3.4" fill="#ed7d31"/><circle cx="364.97" cy="566.18" r="3.4" fill="#ed7d31"/><circle cx="367.33" cy="565.37" r="3.4" fill="#ed7d31"/><circle cx="369.69" cy="564.89" r="3.4" fill="#ed7d31"/><circle cx="372.04" cy="565.47" r="3.4" fill="#ed7d31"/><circle cx="374.40" cy="564.07" r="3.4" fill="#ed7d31"/><circle cx="376.76" cy="563.37" r="3.4" fill="#ed7d31"/><circle cx="379.11" cy="560.57" r="3.4" fill="#ed7d31"/><circle cx="381.47" cy="558.77" r="3.4" fill="#ed7d31"/><circle cx="383.83" cy="557.68" r="3.4" fill="#ed7d31"/><circle cx="386.19" cy="556.27" r="3.4" fill="#ed7d31"/><circle cx="388.54" cy="557.94" r="3.4" fill="#ed7d31"/><circle cx="390.90" cy="557.43" r="3.4" fill="#ed7d31"/><circle cx="393.26" cy="558.58" r="3.4" fill="#ed7d31"/><circle cx="395.61" cy="558.49" r="3.4" fill="#ed7d31"/><circle cx="397.97" cy="557.99" r="3.4" fill="#ed7d31"/><circle cx="400.33" cy="557.28" r="3.4" fill="#ed7d31"/><circle cx="402.69" cy="558.28" r="3.4" fill="#ed7d31"/><circle cx="405.04" cy="560.82" r="3.4" fill="#ed7d31"/><circle cx="407.40" cy="562.91" r="3.4" fill="#ed7d31"/><circle cx="409.76" cy="565.39" r="3.4" fill="#ed7d31"/><circle cx="412.11" cy="563.29" r="3.4" fill="#ed7d31"/><circle cx="414.47" cy="564.75" r="3.4" fill="#ed7d31"/><circle cx="416.83" cy="562.73" r="3.4" fill="#ed7d31"/><circle cx="419.19" cy="561.32" r="3.4" fill="#ed7d31"/><circle cx="421.54" cy="561.82" r="3.4" fill="#ed7d31"/><circle cx="423.90" cy="564.66" r="3.4" fill="#ed7d31"/><circle cx="426.26" cy="565.37" r="3.4" fill="#ed7d31"/><circle cx="428.61" cy="562.43" r="3.4" fill="#ed7d31"/><circle cx="430.97" cy="557.84" r="3.4" fill="#ed7d31"/><circle cx="433.33" cy="561.45" r="3.4" fill="#ed7d31"/><circle cx="435.69" cy="563.88" r="3.4" fill="#ed7d31"/><circle cx="438.04" cy="564.93" r="3.4" fill="#ed7d31"/><circle cx="440.40" cy="569.21" r="3.4" fill="#ed7d31"/><circle cx="442.76" cy="571.61" r="3.4" fill="#ed7d31"/><circle cx="445.11" cy="570.84" r="3.4" fill="#ed7d31"/><circle cx="447.47" cy="567.42" r="3.4" fill="#ed7d31"/><circle cx="449.83" cy="564.86" r="3.4" fill="#ed7d31"/><circle cx="452.19" cy="565.24" r="3.4" fill="#ed7d31"/><circle cx="454.54" cy="568.15" r="3.4" fill="#ed7d31"/><circle cx="456.90" cy="564.44" r="3.4" fill="#ed7d31"/><circle cx="459.26" cy="563.39" r="3.4" fill="#ed7d31"/><circle cx="461.61" cy="561.39" r="3.4" fill="#ed7d31"/><circle cx="463.97" cy="557.03" r="3.4" fill="#ed7d31"/><circle cx="466.33" cy="552.62" r="3.4" fill="#ed7d31"/><circle cx="468.69" cy="554.07" r="3.4" fill="#ed7d31"/><circle cx="471.04" cy="557.34" r="3.4" fill="#ed7d31"/><circle cx="473.40" cy="561.44" r="3.4" fill="#ed7d31"/><circle cx="475.76" cy="564.69" r="3.4" fill="#ed7d31"/><circle cx="478.11" cy="562.08" r="3.4" fill="#ed7d31"/><circle cx="480.47" cy="559.74" r="3.4" fill="#ed7d31"/><circle cx="482.83" cy="556.74" r="3.4" fill="#ed7d31"/><circle cx="485.19" cy="554.29" r="3.4" fill="#ed7d31"/><circle cx="487.54" cy="556.53" r="3.4" fill="#ed7d31"/><circle cx="489.90" cy="560.00" r="3.4" fill="#ed7d31"/><circle cx="492.26" cy="558.42" r="3.4" fill="#ed7d31"/><circle cx="494.61" cy="555.18" r="3.4" fill="#ed7d31"/><circle cx="496.97" cy="550.05" r="3.4" fill="#ed7d31"/><circle cx="499.33" cy="544.44" r="3.4" fill="#ed7d31"/><circle cx="501.69" cy="544.91" r="3.4" fill="#ed7d31"/><circle cx="504.04" cy="545.21" r="3.4" fill="#ed7d31"/><circle cx="506.40" cy="547.50" r="3.4" fill="#ed7d31"/><circle cx="508.76" cy="549.68" r="3.4" fill="#ed7d31"/><circle cx="511.11" cy="547.68" r="3.4" fill="#ed7d31"/><circle cx="513.47" cy="543.91" r="3.4" fill="#ed7d31"/><circle cx="515.83" cy="541.94" r="3.4" fill="#ed7d31"/><circle cx="518.19" cy="540.78" r="3.4" fill="#ed7d31"/><circle cx="520.54" cy="540.59" r="3.4" fill="#ed7d31"/><circle cx="522.90" cy="541.07" r="3.4" fill="#ed7d31"/><circle cx="525.26" cy="540.41" r="3.4" fill="#ed7d31"/><circle cx="527.61" cy="539.62" r="3.4" fill="#ed7d31"/><circle cx="529.97" cy="536.38" r="3.4" fill="#ed7d31"/><circle cx="532.33" cy="532.00" r="3.4" fill="#ed7d31"/><circle cx="534.69" cy="526.66" r="3.4" fill="#ed7d31"/><circle cx="537.04" cy="527.64" r="3.4" fill="#ed7d31"/><circle cx="539.40" cy="528.39" r="3.4" fill="#ed7d31"/><circle cx="541.76" cy="528.60" r="3.4" fill="#ed7d31"/><circle cx="544.11" cy="527.57" r="3.4" fill="#ed7d31"/><circle cx="546.47" cy="525.20" r="3.4" fill="#ed7d31"/><circle cx="548.83" cy="523.18" r="3.4" fill="#ed7d31"/><circle cx="551.19" cy="514.85" r="3.4" fill="#ed7d31"/><circle cx="553.54" cy="511.86" r="3.4" fill="#ed7d31"/><circle cx="555.90" cy="513.71" r="3.4" fill="#ed7d31"/><circle cx="558.26" cy="518.36" r="3.4" fill="#ed7d31"/><circle cx="560.61" cy="514.51" r="3.4" fill="#ed7d31"/><circle cx="562.97" cy="507.38" r="3.4" fill="#ed7d31"/><circle cx="565.33" cy="500.30" r="3.4" fill="#ed7d31"/><circle cx="567.69" cy="490.04" r="3.4" fill="#ed7d31"/><circle cx="570.04" cy="490.32" r="3.4" fill="#ed7d31"/><circle cx="572.40" cy="489.26" r="3.4" fill="#ed7d31"/><circle cx="574.76" cy="494.72" r="3.4" fill="#ed7d31"/><circle cx="577.11" cy="496.70" r="3.4" fill="#ed7d31"/><circle cx="579.47" cy="491.02" r="3.4" fill="#ed7d31"/><circle cx="581.83" cy="483.90" r="3.4" fill="#ed7d31"/><circle cx="584.19" cy="476.71" r="3.4" fill="#ed7d31"/><circle cx="586.54" cy="479.68" r="3.4" fill="#ed7d31"/><circle cx="588.90" cy="484.95" r="3.4" fill="#ed7d31"/><circle cx="591.26" cy="492.93" r="3.4" fill="#ed7d31"/><circle cx="593.61" cy="489.35" r="3.4" fill="#ed7d31"/><circle cx="595.97" cy="483.41" r="3.4" fill="#ed7d31"/><circle cx="598.33" cy="470.73" r="3.4" fill="#ed7d31"/><circle cx="600.69" cy="458.32" r="3.4" fill="#ed7d31"/><circle cx="603.04" cy="455.74" r="3.4" fill="#ed7d31"/><circle cx="605.40" cy="456.11" r="3.4" fill="#ed7d31"/><circle cx="607.76" cy="459.98" r="3.4" fill="#ed7d31"/><circle cx="610.11" cy="449.93" r="3.4" fill="#ed7d31"/><circle cx="612.47" cy="432.78" r="3.4" fill="#ed7d31"/><circle cx="614.83" cy="413.32" r="3.4" fill="#ed7d31"/><circle cx="617.19" cy="388.51" r="3.4" fill="#ed7d31"/><circle cx="619.54" cy="381.23" r="3.4" fill="#ed7d31"/><circle cx="621.90" cy="381.71" r="3.4" fill="#ed7d31"/><circle cx="624.26" cy="380.38" r="3.4" fill="#ed7d31"/><circle cx="626.61" cy="365.34" r="3.4" fill="#ed7d31"/><circle cx="628.97" cy="347.95" r="3.4" fill="#ed7d31"/><circle cx="631.33" cy="325.06" r="3.4" fill="#ed7d31"/><circle cx="633.69" cy="312.20" r="3.4" fill="#ed7d31"/><circle cx="636.04" cy="311.01" r="3.4" fill="#ed7d31"/><circle cx="638.40" cy="321.91" r="3.4" fill="#ed7d31"/><circle cx="640.76" cy="311.54" r="3.4" fill="#ed7d31"/><circle cx="643.11" cy="304.64" r="3.4" fill="#ed7d31"/><circle cx="645.47" cy="287.58" r="3.4" fill="#ed7d31"/><circle cx="647.83" cy="272.93" r="3.4" fill="#ed7d31"/><circle cx="650.19" cy="270.23" r="3.4" fill="#ed7d31"/><circle cx="652.54" cy="281.84" r="3.4" fill="#ed7d31"/><circle cx="654.90" cy="303.60" r="3.4" fill="#ed7d31"/><circle cx="657.26" cy="310.61" r="3.4" fill="#ed7d31"/><circle cx="659.61" cy="312.68" r="3.4" fill="#ed7d31"/><circle cx="661.97" cy="298.07" r="3.4" fill="#ed7d31"/><circle cx="664.33" cy="305.74" r="3.4" fill="#ed7d31"/><circle cx="666.69" cy="320.75" r="3.4" fill="#ed7d31"/><circle cx="669.04" cy="342.16" r="3.4" fill="#ed7d31"/><circle cx="671.40" cy="363.06" r="3.4" fill="#ed7d31"/><circle cx="673.76" cy="369.06" r="3.4" fill="#ed7d31"/><circle cx="676.11" cy="363.24" r="3.4" fill="#ed7d31"/><circle cx="678.47" cy="345.33" r="3.4" fill="#ed7d31"/><circle cx="680.83" cy="340.98" r="3.4" fill="#ed7d31"/><circle cx="683.19" cy="343.02" r="3.4" fill="#ed7d31"/><circle cx="685.54" cy="345.01" r="3.4" fill="#ed7d31"/><circle cx="687.90" cy="367.21" r="3.4" fill="#ed7d31"/><circle cx="690.26" cy="363.63" r="3.4" fill="#ed7d31"/><circle cx="692.61" cy="360.60" r="3.4" fill="#ed7d31"/><circle cx="694.97" cy="358.08" r="3.4" fill="#ed7d31"/><circle cx="697.33" cy="359.40" r="3.4" fill="#ed7d31"/><circle cx="699.69" cy="368.85" r="3.4" fill="#ed7d31"/><circle cx="702.04" cy="389.73" r="3.4" fill="#ed7d31"/><circle cx="704.40" cy="403.56" r="3.4" fill="#ed7d31"/><circle cx="706.76" cy="419.02" r="3.4" fill="#ed7d31"/><circle cx="709.11" cy="429.00" r="3.4" fill="#ed7d31"/><circle cx="711.47" cy="430.48" r="3.4" fill="#ed7d31"/><circle cx="713.83" cy="431.61" r="3.4" fill="#ed7d31"/><circle cx="716.19" cy="433.44" r="3.4" fill="#ed7d31"/><circle cx="718.54" cy="442.41" r="3.4" fill="#ed7d31"/><circle cx="720.90" cy="454.51" r="3.4" fill="#ed7d31"/><circle cx="723.26" cy="459.86" r="3.4" fill="#ed7d31"/><circle cx="725.61" cy="454.24" r="3.4" fill="#ed7d31"/><circle cx="727.97" cy="451.96" r="3.4" fill="#ed7d31"/><circle cx="730.33" cy="449.05" r="3.4" fill="#ed7d31"/><circle cx="732.69" cy="458.83" r="3.4" fill="#ed7d31"/><circle cx="735.04" cy="472.38" r="3.4" fill="#ed7d31"/><circle cx="737.40" cy="481.37" r="3.4" fill="#ed7d31"/><circle cx="739.76" cy="489.06" r="3.4" fill="#ed7d31"/><circle cx="742.11" cy="485.44" r="3.4" fill="#ed7d31"/><circle cx="744.47" cy="477.82" r="3.4" fill="#ed7d31"/><circle cx="746.83" cy="467.06" r="3.4" fill="#ed7d31"/><circle cx="749.19" cy="469.84" r="3.4" fill="#ed7d31"/><circle cx="751.54" cy="480.75" r="3.4" fill="#ed7d31"/><circle cx="753.90" cy="480.09" r="3.4" fill="#ed7d31"/><circle cx="756.26" cy="483.14" r="3.4" fill="#ed7d31"/><circle cx="758.61" cy="465.66" r="3.4" fill="#ed7d31"/><circle cx="760.97" cy="454.59" r="3.4" fill="#ed7d31"/><circle cx="763.33" cy="449.97" r="3.4" fill="#ed7d31"/><circle cx="765.69" cy="448.25" r="3.4" fill="#ed7d31"/><circle cx="768.04" cy="455.46" r="3.4" fill="#ed7d31"/><circle cx="770.40" cy="470.46" r="3.4" fill="#ed7d31"/><circle cx="772.76" cy="475.64" r="3.4" fill="#ed7d31"/><circle cx="775.11" cy="469.41" r="3.4" fill="#ed7d31"/><circle cx="777.47" cy="458.71" r="3.4" fill="#ed7d31"/><circle cx="779.83" cy="454.01" r="3.4" fill="#ed7d31"/><circle cx="782.19" cy="463.14" r="3.4" fill="#ed7d31"/><circle cx="784.54" cy="482.94" r="3.4" fill="#ed7d31"/><circle cx="786.90" cy="483.61" r="3.4" fill="#ed7d31"/><circle cx="789.26" cy="492.07" r="3.4" fill="#ed7d31"/><circle cx="791.61" cy="505.79" r="3.4" fill="#ed7d31"/><circle cx="793.97" cy="482.98" r="3.4" fill="#ed7d31"/><circle cx="796.33" cy="481.42" r="3.4" fill="#ed7d31"/><circle cx="798.69" cy="482.61" r="3.4" fill="#ed7d31"/><circle cx="801.04" cy="495.38" r="3.4" fill="#ed7d31"/><circle cx="803.40" cy="504.18" r="3.4" fill="#ed7d31"/><circle cx="805.76" cy="506.05" r="3.4" fill="#ed7d31"/><circle cx="808.11" cy="501.54" r="3.4" fill="#ed7d31"/><circle cx="810.47" cy="507.32" r="3.4" fill="#ed7d31"/><circle cx="812.83" cy="502.23" r="3.4" fill="#ed7d31"/><circle cx="815.19" cy="488.85" r="3.4" fill="#ed7d31"/>
<line x1="378" y1="642" x2="406" y2="642" stroke="#4472c4" stroke-width="2.25"/><circle cx="392" cy="642" r="3.5" fill="#4472c4"/>
<line x1="466" y1="642" x2="494" y2="642" stroke="#ed7d31" stroke-width="2.25"/><circle cx="480" cy="642" r="3.5" fill="#ed7d31"/>
</svg>
<div class="t">Daily New Cases with 10 Day Moving Average</div>
<div class="yl" style="top:41.0px">4000</div><div class="yl" style="top:109.8px">3500</div><div class="yl" style="top:178.5px">3000</div><div class="yl" style="top:247.2px">2500</div><div class="yl" style="top:316.0px">2000</div><div class="yl" style="top:384.8px">1500</div><div class="yl" style="top:453.5px">1000</div><div class="yl" style="top:522.2px">500</div><div class="yl" style="top:591.0px">0</div><div class="xl" style="left:-5.5px">3/10/2020</div><div class="xl" style="left:112.4px">4/29/2020</div><div class="xl" style="left:230.2px">6/18/2020</div><div class="xl" style="left:348.1px">8/7/2020</div><div class="xl" style="left:465.9px">9/26/2020</div><div class="xl" style="left:583.8px">11/15/2020</div><div class="xl" style="left:701.6px">1/4/2021</div><div class="xl" style="left:819.5px">2/23/2021</div>
<div class="lg" style="left:409px;letter-spacing:-0.25px">Nebraska</div>
<div class="lg" style="left:495.5px">MovAvg</div>
</div></body></html>
